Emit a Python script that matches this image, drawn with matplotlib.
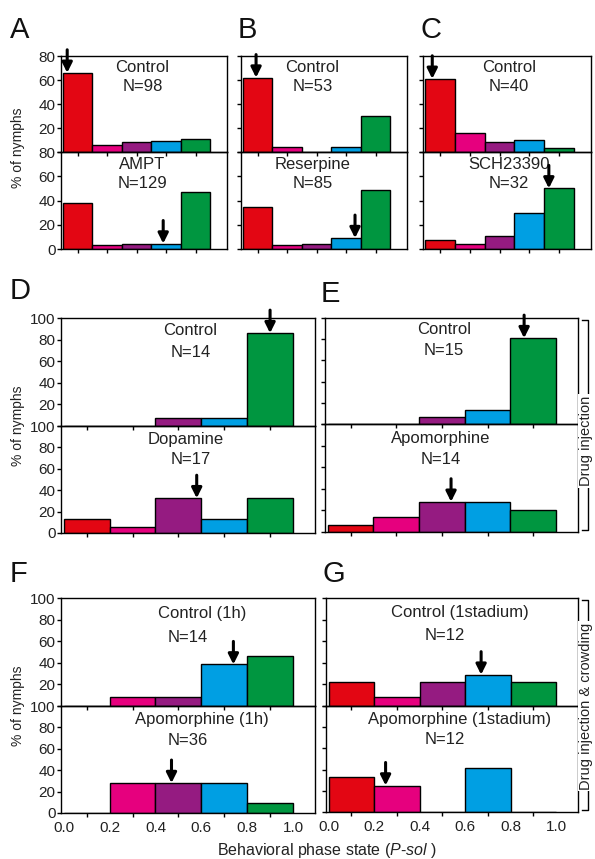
import matplotlib
matplotlib.use('Agg')
import matplotlib.pyplot as plt

plt.rcParams['font.family'] = ['Liberation Sans', 'DejaVu Sans']
plt.rcParams['mathtext.fontset'] = 'custom'
plt.rcParams['mathtext.rm'] = 'Liberation Sans'
plt.rcParams['mathtext.it'] = 'Liberation Sans:italic'

# bins of P-sol: 0-0.2, 0.2-0.4, ... 0.8-1.0
bin_edges = [0.0, 0.2, 0.4, 0.6, 0.8, 1.0]
bin_colors = ['#e30613', '#e6007e', '#951b81', '#009fe3', '#009640']

# % of nymphs per bin, upper (control) and lower (treatment) histograms
a_ctrl = [66, 6, 8, 9, 10.5]
a_trt = [38, 3, 4.5, 4.5, 47]
b_ctrl = [62, 4.5, 0, 4, 30]
b_trt = [35, 3, 4, 9, 49]
c_ctrl = [61, 15.5, 8, 10, 3.5]
c_trt = [7.5, 4, 10.5, 30, 50]
d_ctrl = [0, 0, 7.5, 7.5, 86]
d_trt = [13, 6, 32.5, 13, 32.5]
e_ctrl = [0, 0, 7, 13, 81]
e_trt = [6.5, 13.5, 28, 28, 20.5]
f_ctrl = [0, 8.5, 8.5, 38.5, 46]
f_trt = [0, 28, 28, 28, 9]
g_ctrl = [22, 8.5, 22, 29, 22]
g_trt = [33, 25, 0, 41.5, 0]

# mean P-sol (arrow positions)
a_mean = [0.03, 0.68]
b_mean = [0.09, 0.76]
c_mean = [0.05, 0.83]
d_mean = [0.90, 0.58]
e_mean = [0.86, 0.54]
f_mean = [0.74, 0.47]
g_mean = [0.67, 0.25]

a_labels = [('Control', 'N=98'), ('AMPT', 'N=129')]
b_labels = [('Control', 'N=53'), ('Reserpine', 'N=85')]
c_labels = [('Control', 'N=40'), ('SCH23390', 'N=32')]
d_labels = [('Control', 'N=14'), ('Dopamine', 'N=17')]
e_labels = [('Control', 'N=15'), ('Apomorphine', 'N=14')]
f_labels = [('Control (1h)', 'N=14'), ('Apomorphine (1h)', 'N=36')]
g_labels = [('Control (1stadium)', 'N=12'), ('Apomorphine (1stadium)', 'N=12')]

W, H = 595, 859
fig = plt.figure(figsize=(W / 100, H / 100), dpi=100)


def px_axes(l, t, r, b):
    ax = fig.add_axes([l / W, 1 - b / H, (r - l) / W, (b - t) / H])
    ax.set_facecolor('none')
    return ax


def draw_hist(ax, vals, mean, ymax, xmax, ylabels, first, bottom, hpx,
              txt, txt_x, txt_y):
    centers = [e + 0.1 for e in bin_edges[:-1]]
    ax.bar(centers, vals, width=0.2, color=bin_colors, edgecolor='black',
           linewidth=1.0, zorder=2)
    ax.set_xlim(-0.012, xmax)
    ax.set_ylim(0, ymax)
    for s in ax.spines.values():
        s.set_linewidth(1.0)
    ticks = list(range(0, ymax + 1, 20))
    ax.set_yticks(ticks)
    if ylabels:
        labs = [str(t) for t in ticks]
        if first:
            labs[0] = ''
        ax.set_yticklabels(labs)
    else:
        ax.set_yticklabels([])
    ax.tick_params(axis='y', direction='out', length=3, width=1, pad=1,
                   labelsize=11, labelcolor='#222222')
    if bottom:
        ax.set_xticks(bin_edges, ['0.0', '0.2', '0.4', '0.6', '0.8', '1.0'])
        ax.tick_params(axis='x', which='major', length=0, pad=6, labelsize=11,
                       labelcolor='#222222')
    else:
        ax.set_xticks([])
    ax.set_xticks(centers, minor=True)
    ax.tick_params(axis='x', which='minor', direction='out', length=3, width=1)
    # arrow at mean phase state
    tip = vals[min(int(mean / 0.2), 4)]
    L = 23 * ymax / hpx
    ax.annotate('', xy=(mean, tip), xytext=(mean, tip + L),
                arrowprops=dict(arrowstyle='-|>,head_width=0.3,head_length=0.6',
                                lw=2.2, color='black', shrinkA=0, shrinkB=0),
                annotation_clip=False, zorder=5)
    ax.text(txt_x[0], txt_y[0], txt[0], transform=ax.transAxes, ha='center',
            va='center', fontsize=12, color='#222222')
    ax.text(txt_x[1], txt_y[1], txt[1], transform=ax.transAxes, ha='center',
            va='center', fontsize=12, color='#222222')


def panel(geom, ctrl, trt, means, labels, ymax, xmax, ylabels, bottom,
          tx, ty=(0.875, 0.68), ty2=(0.87, 0.68)):
    l, t, m, b, r = geom
    ax1 = px_axes(l, t, r, m)
    ax2 = px_axes(l, m, r, b)
    draw_hist(ax1, ctrl, means[0], ymax, xmax, ylabels, True, False,
              m - t, labels[0], tx[0], ty)
    draw_hist(ax2, trt, means[1], ymax, xmax, ylabels, False, bottom,
              b - m, labels[1], tx[1], ty2)
    return ax1, ax2


panel((61, 56, 152, 249, 227), a_ctrl, a_trt, a_mean, a_labels, 80, 1.112,
      True, False, [(0.49, 0.49), (0.49, 0.49)])
panel((241, 56, 152, 249, 407), b_ctrl, b_trt, b_mean, b_labels, 80, 1.112,
      False, False, [(0.43, 0.43), (0.43, 0.43)])
panel((423, 56, 152, 249, 591), c_ctrl, c_trt, c_mean, c_labels, 80, 1.112,
      False, False, [(0.51, 0.51), (0.51, 0.51)])
panel((61, 318, 426, 533, 315), d_ctrl, d_trt, d_mean, d_labels, 100, 1.096,
      True, False, [(0.51, 0.51), (0.49, 0.51)], ty=(0.88, 0.685), ty2=(0.875, 0.69))
panel((325, 318, 424, 532, 578), e_ctrl, e_trt, e_mean, e_labels, 100, 1.096,
      False, False, [(0.47, 0.47), (0.457, 0.457)], ty=(0.89, 0.695), ty2=(0.865, 0.675))
panel((61, 598, 706, 813, 315), f_ctrl, f_trt, f_mean, f_labels, 100, 1.096,
      True, True, [(0.554, 0.50), (0.554, 0.50)], ty=(0.855, 0.635), ty2=(0.87, 0.675))
panel((326, 598, 706, 812, 578), g_ctrl, g_trt, g_mean, g_labels, 100, 1.096,
      False, True, [(0.53, 0.47), (0.53, 0.47)], ty=(0.865, 0.655), ty2=(0.87, 0.685))

# panel letters
for letter, x, y in [('A', 10, 38), ('B', 238, 38), ('C', 420, 38),
                     ('D', 10, 299), ('E', 321, 302), ('F', 10, 582),
                     ('G', 322, 582)]:
    fig.text(x / W, 1 - y / H, letter, fontsize=21, va='baseline', ha='left',
             color='#111111')

# y labels
for yc in [148, 426, 706]:
    fig.text(18 / W, 1 - yc / H, '% of nymphs', rotation=90, fontsize=10,
             ha='center', va='center', color='#222222')

# x label
fig.text(327 / W, 1 - 850 / H, r'Behavioral phase state ($\it{P}$-$\it{sol}$ )',
         fontsize=11.5, ha='center', va='center', color='#222222')


# brackets
def bracket(x, top, bot, label, yc):
    fig.add_artist(plt.Line2D([(x - 6) / W, x / W, x / W, (x - 6) / W],
                              [1 - top / H, 1 - top / H, 1 - bot / H, 1 - bot / H],
                              color='black', lw=1.0))
    fig.text((x + 2) / W, 1 - yc / H, label, rotation=90, fontsize=10.5,
             ha='center', va='baseline', rotation_mode='anchor',
             color='#222222',
             bbox=dict(facecolor='white', edgecolor='none', pad=1))


bracket(588, 320, 530, 'Drug injection', 441)
bracket(588, 600, 810, 'Drug injection & crowding', 706)

fig.savefig('out.png', dpi=100)
